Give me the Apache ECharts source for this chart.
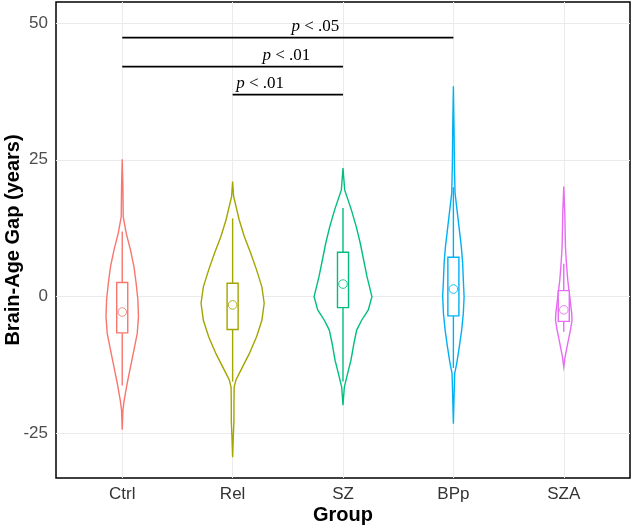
<!DOCTYPE html>
<html>
<head>
<meta charset="utf-8">
<script src="https://cdn.jsdelivr.net/npm/echarts@6/dist/echarts.min.js"></script>
<style>
  html, body { margin: 0; padding: 0; background: #fff; }
  #chart { width: 633px; height: 528px; }
</style>
</head>
<body>
<div id="chart"></div>
<script>
// ---------------- DATA ----------------
const categories = ['Ctrl', 'Rel', 'SZ', 'BPp', 'SZA'];
const colors = ['#F8766D', '#A3A500', '#00BF7D', '#00B0F6', '#E76BF3'];
const yTicks = [-25, 0, 25, 50];

// violin outlines: [brain-age gap value, half width in category units]
const violinCtrl = [[25.1,0],[20,0.006],[14.6,0.009],[11.6,0.036],[8.5,0.075],[5.5,0.106],[2.45,0.126],[-0.6,0.142],[-3.7,0.147],[-6.7,0.136],[-9.75,0.106],[-12.8,0.075],[-15.8,0.045],[-18.9,0.018],[-20.7,0.006],[-24.3,0]];
const violinRel  = [[21.0,0],[18.3,0.009],[14.0,0.060],[11.0,0.106],[7.9,0.165],[4.9,0.217],[1.8,0.265],[-1.2,0.286],[-4.3,0.265],[-7.3,0.217],[-10.4,0.151],[-13.4,0.075],[-15.2,0.030],[-16.5,0.014],[-19.5,0.012],[-22.6,0.012],[-25.6,0.006],[-29.3,0]];
const violinSZ   = [[23.5,0],[19.5,0.015],[15.9,0.075],[12.8,0.120],[9.8,0.156],[6.7,0.187],[3.7,0.217],[0,0.262],[-2.4,0.229],[-4.3,0.169],[-6.1,0.124],[-8.5,0.099],[-11.6,0.072],[-14.0,0.042],[-16.5,0.012],[-19.8,0]];
const violinBPp  = [[38.4,0],[30.5,0.006],[24.4,0.009],[18.9,0.015],[15.3,0.036],[12.2,0.054],[9.1,0.072],[6.1,0.084],[3.05,0.090],[0,0.097],[-3.05,0.090],[-6.1,0.075],[-9.1,0.054],[-12.2,0.030],[-14.0,0.012],[-18.3,0.006],[-23.2,0]];
const violinSZA  = [[20.1,0],[15.3,0.009],[9.1,0.015],[6.1,0.024],[3.05,0.036],[0,0.054],[-3.05,0.072],[-4.3,0.075],[-6.1,0.060],[-9.1,0.030],[-11,0.012],[-12.8,0]];
const violins = [violinCtrl, violinRel, violinSZ, violinBPp, violinSZA];

// box summaries: [lower whisker, Q1, Q3, upper whisker]
const boxStats = [
  [-16.2, -6.6, 2.6, 11.9],
  [-15.5, -6.0, 2.45, 14.3],
  [-15.5, -2.0, 8.1, 16.2],
  [-13.0, -3.5, 7.2, 20.0],
  [-6.4, -4.5, 1.1, 6.0]
];
// group means (open circles)
const means = [-2.8, -1.5, 2.3, 1.4, -2.4];

// significance comparisons: [from group index, to group index, bracket height, label]
const comparisons = [
  [0, 3, 47.3, '.05'],
  [0, 2, 42.0, '.01'],
  [1, 2, 36.9, '.01']
];

// ---------------- LAYOUT / STYLE ----------------
const labelLeftX = [2.533, 2.271, 2.033]; // where each p-label starts (x, category units)
const boxHalf = 0.05;
const meanRadius = 4.3;

const chart = echarts.init(document.getElementById('chart'));

function renderViolin(params, api) {
  const g = api.value(0);
  const prof = violins[g];
  const col = colors[g];
  const right = prof.map(p => api.coord([g + 1 + p[1], p[0]]));
  const left = prof.slice().reverse().map(p => api.coord([g + 1 - p[1], p[0]]));
  const pts = right.concat(left);
  const bs = boxStats[g];
  const cTop = api.coord([g + 1, bs[3]]);
  const cQ3 = api.coord([g + 1, bs[2]]);
  const cQ1 = api.coord([g + 1, bs[1]]);
  const cLow = api.coord([g + 1, bs[0]]);
  const bl = api.coord([g + 1 - boxHalf, bs[2]]);
  const br = api.coord([g + 1 + boxHalf, bs[1]]);
  const cm = api.coord([g + 1, means[g]]);
  return {
    type: 'group',
    children: [
      { type: 'polygon', shape: { points: pts }, style: { fill: '#fff', stroke: col, lineWidth: 1.4 } },
      { type: 'line', shape: { x1: cTop[0], y1: cTop[1], x2: cQ3[0], y2: cQ3[1] }, style: { stroke: col, lineWidth: 1.4 } },
      { type: 'line', shape: { x1: cQ1[0], y1: cQ1[1], x2: cLow[0], y2: cLow[1] }, style: { stroke: col, lineWidth: 1.4 } },
      { type: 'rect', shape: { x: bl[0], y: bl[1], width: br[0] - bl[0], height: br[1] - bl[1] }, style: { fill: '#fff', stroke: col, lineWidth: 1.4 } },
      { type: 'circle', shape: { cx: cm[0], cy: cm[1], r: meanRadius }, style: { fill: 'none', stroke: col, lineWidth: 1, opacity: 0.85 } }
    ]
  };
}

function renderSig(params, api) {
  const i = params.dataIndex;
  const c = comparisons[i];
  const a = api.coord([c[0] + 1, c[2]]);
  const b = api.coord([c[1] + 1, c[2]]);
  const t = api.coord([labelLeftX[i], c[2]]);
  return {
    type: 'group',
    children: [
      { type: 'line', shape: { x1: a[0], y1: a[1], x2: b[0], y2: b[1] }, style: { stroke: '#000', lineWidth: 1.8 } },
      { type: 'text', x: t[0], y: a[1] - 3,
        style: {
          text: '{i|p}{n| < ' + c[3] + '}',
          align: 'left', verticalAlign: 'bottom',
          rich: {
            i: { fontFamily: 'Liberation Serif', fontStyle: 'italic', fontSize: 17, fill: '#000' },
            n: { fontFamily: 'Liberation Serif', fontSize: 17, fill: '#000' }
          }
        } }
    ]
  };
}

const option = {
  animation: false,
  backgroundColor: '#fff',
  grid: { left: 56, right: 3, top: 2, bottom: 50, show: true, borderColor: '#000', borderWidth: 1.5,
    backgroundColor: 'transparent', containLabel: false, outerBoundsMode: 'none' },
  xAxis: {
    type: 'value', min: 0.4, max: 5.6,
    name: 'Group', nameLocation: 'middle', nameGap: 27, nameMoveOverlap: false,
    nameTextStyle: { fontFamily: 'Liberation Sans', fontWeight: 'bold', fontSize: 20, color: '#000' },
    axisLine: { show: false },
    axisTick: { show: false, customValues: [1, 2, 3, 4, 5] },
    axisLabel: { customValues: [1, 2, 3, 4, 5], formatter: v => categories[Math.round(v) - 1] || '',
      fontFamily: 'Liberation Sans', fontSize: 17, color: '#333', margin: 8 },
    splitLine: { show: true, lineStyle: { color: '#EBEBEB', width: 1 } }
  },
  yAxis: {
    type: 'value', min: -33.1, max: 53.8,
    name: 'Brain-Age Gap (years)', nameLocation: 'middle', nameGap: 33, nameMoveOverlap: false,
    nameTextStyle: { fontFamily: 'Liberation Sans', fontWeight: 'bold', fontSize: 20, color: '#000' },
    axisLine: { show: false },
    axisTick: { show: false, customValues: yTicks },
    axisLabel: { customValues: yTicks, fontFamily: 'Liberation Sans', fontSize: 17, color: '#4D4D4D', margin: 8 },
    splitLine: { show: true, lineStyle: { color: '#EBEBEB', width: 1 } }
  },
  series: [
    { type: 'custom', renderItem: renderViolin, data: categories.map((c, i) => [i]), clip: true, z: 3 },
    { type: 'custom', renderItem: renderSig, data: comparisons.map((c, i) => [i]), z: 4 }
  ]
};
chart.setOption(option);
</script>
</body>
</html>
